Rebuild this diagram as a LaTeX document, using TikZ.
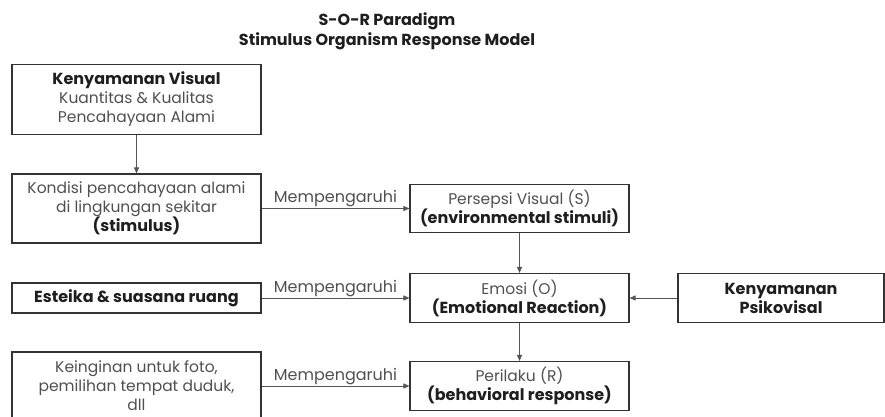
\documentclass[tikz,border=0pt]{standalone}
\usepackage{fontspec}
\setmainfont{Poppins}
\usetikzlibrary{arrows.meta}
\definecolor{txt}{HTML}{505050}
\definecolor{bld}{HTML}{1E1E1E}
\definecolor{brd}{HTML}{333333}
\definecolor{arr}{HTML}{555555}
\tikzset{
  box/.style={draw=brd, line width=1.1pt, fill=white, align=center, inner sep=0pt,
    text=txt, font=\fontsize{15.5}{19}\selectfont},
  conn/.style={draw=arr, line width=0.8pt, -{Triangle[length=6pt,width=5pt]}},
  lbl/.style={text=txt, font=\fontsize{16}{18}\selectfont, inner sep=1pt},
}
\newcommand{\bb}[1]{{\fontsize{16}{19}\bfseries\color{bld}#1}}
\begin{document}
\begin{tikzpicture}[x=1pt,y=-1pt]
\useasboundingbox (0,0) rectangle (885,417);
\node[font=\bfseries\fontsize{16}{20}\selectfont, text=bld, align=center] (title) at (387,31) {S-O-R Paradigm\\Stimulus Organism Response Model};
\node[box, minimum width=249pt, minimum height=70pt] (kv) at (136.5,99.5) {\bb{Kenyamanan Visual}\\Kuantitas \& Kualitas\\Pencahayaan Alami};
\node[box, minimum width=249pt, minimum height=69pt] (kondisi) at (136.5,208.5) {Kondisi pencahayaan alami\\di lingkungan sekitar\\\bb{(stimulus)}};
\node[box, minimum width=219pt, minimum height=48pt] (persepsi) at (519.5,208.5) {Persepsi Visual (S)\\\bb{(environmental stimuli)}};
\node[box, minimum width=249pt, minimum height=30pt] (esteika) at (136.5,298) {\bb{Esteika \& suasana ruang}};
\node[box, minimum width=219pt, minimum height=49pt] (emosi) at (519.5,298) {Emosi (O)\\\bb{(Emotional Reaction)}};
\node[box, minimum width=206pt, minimum height=49pt] (psiko) at (781,298) {\bb{Kenyamanan}\\\bb{Psikovisal}};
\node[box, minimum width=249pt, minimum height=68pt] (keinginan) at (136.5,386) {Keinginan untuk foto,\\pemilihan tempat duduk,\\dll};
\node[box, minimum width=219pt, minimum height=49pt] (perilaku) at (519.5,386) {Perilaku (R)\\\bb{(behavioral response)}};
\draw[conn] (kv) -- (kondisi);
\draw[conn] (kondisi) -- node[lbl, above=0pt] {Mempengaruhi} (persepsi);
\draw[conn] (esteika) -- node[lbl, above=0pt] {Mempengaruhi} (emosi);
\draw[conn] (keinginan) -- node[lbl, above=0pt] {Mempengaruhi} (perilaku);
\draw[conn] (persepsi) -- (emosi);
\draw[conn] (emosi) -- (perilaku);
\draw[conn] (psiko) -- (emosi);
\end{tikzpicture}
\end{document}
